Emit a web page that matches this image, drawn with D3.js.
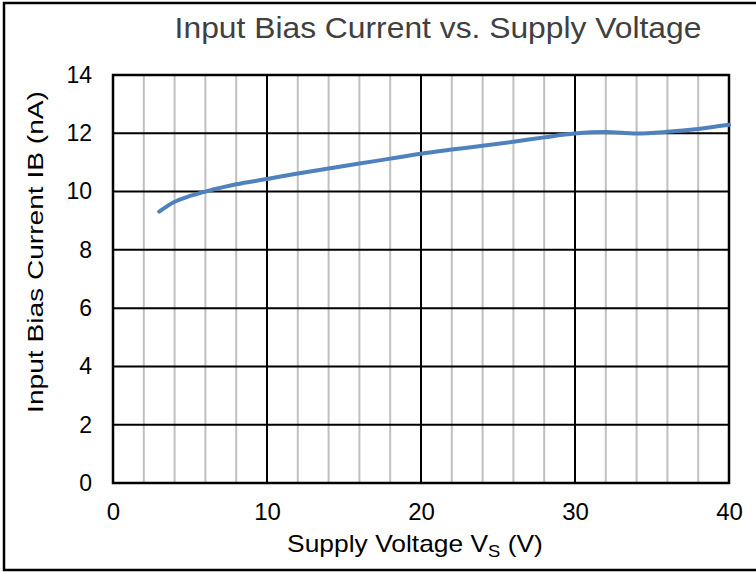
<!DOCTYPE html>
<html>
<head>
<meta charset="utf-8">
<script src="https://cdn.jsdelivr.net/npm/d3@7"></script>
<style>
  body { margin: 0; background: #fff; }
  svg { display: block; font-family: "Liberation Sans", Arial, sans-serif; }
</style>
</head>
<body>
<div id="chart"></div>
<script>
// supply voltage (V) and input bias current (nA)
const voltage = [3, 4, 5, 6, 8, 10, 12, 14, 16, 18, 20, 22, 24, 26, 28, 30, 32, 34, 36, 38, 40];
const biasCurrent = [9.31, 9.65, 9.85, 10.0, 10.25, 10.43, 10.62, 10.79, 10.96, 11.13, 11.3, 11.44, 11.57, 11.71, 11.86, 11.99, 12.04, 11.99, 12.05, 12.15, 12.29];

const xTicks = [0, 10, 20, 30, 40];
const yTicks = [0, 2, 4, 6, 8, 10, 12, 14];
const xMinor = [2, 4, 6, 8, 12, 14, 16, 18, 22, 24, 26, 28, 32, 34, 36, 38];

const W = 756, H = 572;
const margin = { top: 75, right: 27, bottom: 89, left: 113 };
const innerW = W - margin.left - margin.right;
const innerH = H - margin.top - margin.bottom;

const svg = d3.select('#chart').append('svg')
    .attr('width', W)
    .attr('height', H);

// outer frame
svg.append('rect')
    .attr('x', 4).attr('y', 3)
    .attr('width', W + 10).attr('height', 567)
    .attr('fill', 'none')
    .attr('stroke', '#000')
    .attr('stroke-width', 2.5);

const g = svg.append('g')
    .attr('transform', 'translate(' + margin.left + ',' + margin.top + ')');

const x = d3.scaleLinear().domain([0, 40]).range([0, innerW]);
const y = d3.scaleLinear().domain([0, 14]).range([innerH, 0]);

// minor vertical grid
g.selectAll('.minor')
    .data(xMinor)
    .enter().append('line')
    .attr('x1', d => x(d)).attr('x2', d => x(d))
    .attr('y1', 0).attr('y2', innerH)
    .attr('stroke', '#c0c0c0')
    .attr('stroke-width', 2);

// major vertical grid
g.selectAll('.vmajor')
    .data(xTicks)
    .enter().append('line')
    .attr('x1', d => x(d)).attr('x2', d => x(d))
    .attr('y1', 0).attr('y2', innerH)
    .attr('stroke', '#000')
    .attr('stroke-width', 2);

// horizontal grid
g.selectAll('.hmajor')
    .data(yTicks)
    .enter().append('line')
    .attr('x1', 0).attr('x2', innerW)
    .attr('y1', d => y(d)).attr('y2', d => y(d))
    .attr('stroke', '#000')
    .attr('stroke-width', 2);

// plot border
g.append('rect')
    .attr('width', innerW).attr('height', innerH)
    .attr('fill', 'none')
    .attr('stroke', '#000')
    .attr('stroke-width', 2.5);

// axes (labels only)
const xAxis = g.append('g')
    .attr('transform', 'translate(0,' + innerH + ')')
    .call(d3.axisBottom(x).tickValues(xTicks).tickSize(0).tickPadding(20));
xAxis.select('.domain').remove();
xAxis.selectAll('text')
    .style('font-size', '24px')
    .style('font-family', '"Liberation Sans", Arial, sans-serif')
    .attr('fill', '#000');

const yAxis = g.append('g')
    .call(d3.axisLeft(y).tickValues(yTicks).tickSize(0).tickPadding(21));
yAxis.select('.domain').remove();
yAxis.selectAll('text')
    .style('font-size', '23px')
    .style('font-family', '"Liberation Sans", Arial, sans-serif')
    .attr('fill', '#000');

// curve
const line = d3.line()
    .x((d, i) => x(voltage[i]))
    .y(d => y(d))
    .curve(d3.curveCatmullRom.alpha(0.5));

g.append('path')
    .datum(biasCurrent)
    .attr('d', line)
    .attr('fill', 'none')
    .attr('stroke', '#4f81bd')
    .attr('stroke-width', 4)
    .attr('stroke-linecap', 'round');

// the picture's text runs a bit wider than the font; stretch along the text
function stretch(sel, cx, cy, rot, target) {
    const len = sel.node().getComputedTextLength();
    sel.attr('transform', 'translate(' + cx + ',' + cy + ') rotate(' + rot + ') scale(' + (target / len) + ',1)');
}

// title
const title = svg.append('text')
    .attr('text-anchor', 'middle')
    .attr('fill', '#404040')
    .style('font-size', '30px')
    .text('Input Bias Current vs. Supply Voltage');
stretch(title, 438, 38, 0, 527);

// x label
const xl = svg.append('text')
    .attr('text-anchor', 'middle')
    .attr('fill', '#000')
    .style('font-size', '23px');
xl.append('tspan').text('Supply Voltage V');
xl.append('tspan').attr('dy', 5).style('font-size', '16px').text('S');
xl.append('tspan').attr('dy', -5).text(' (V)');
stretch(xl, 415, 552, 0, 256);

// y label
const yl = svg.append('text')
    .attr('text-anchor', 'middle')
    .attr('fill', '#000')
    .style('font-size', '22px')
    .text('Input Bias Current IB (nA)');
stretch(yl, 43, 252, -90, 322);
</script>
</body>
</html>
